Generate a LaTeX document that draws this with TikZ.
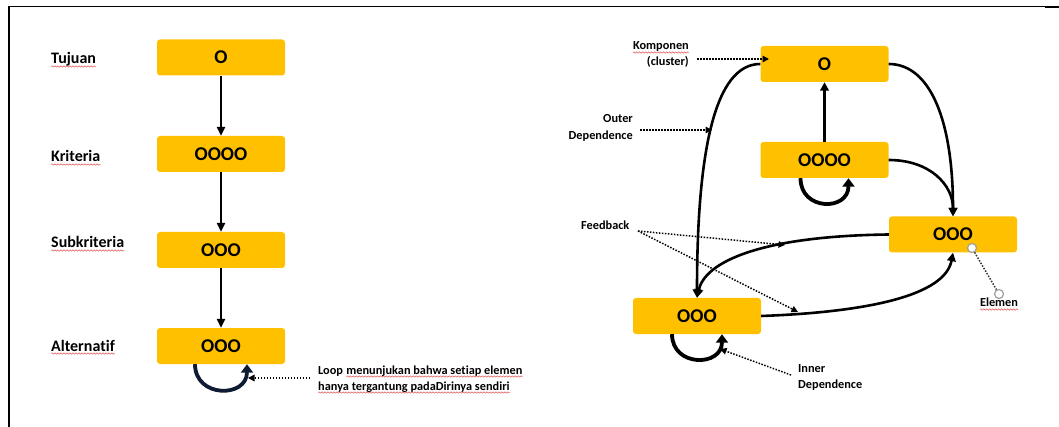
\documentclass[tikz,border=0pt]{standalone}
\usepackage{fontspec}
\setmainfont{Carlito}[Ligatures=NoCommon]
\usetikzlibrary{arrows.meta,decorations.pathmorphing,calc}
\definecolor{boxgold}{HTML}{FFC000}
\definecolor{loopnavy}{HTML}{0E1B33}
\definecolor{squig}{HTML}{E05555}
\tikzset{
  box/.style={fill=boxgold, rounded corners=3pt, minimum width=128pt, minimum height=36pt,
    inner sep=0pt, font=\fontsize{19.5}{19.5}\selectfont\bfseries},
  lbl/.style={inner sep=0pt, font=\fontsize{16}{16}\selectfont\bfseries, text=black},
  note/.style={inner sep=0pt, font=\fontsize{12.3}{12.3}\selectfont\bfseries, text=black},
  flow/.style={line width=2.3pt, -{Triangle[width=8pt,length=9pt]}},
  link/.style={line width=2.6pt, -{Triangle[width=8.5pt,length=8.5pt]}},
  selfloop/.style={line width=3.8pt, -{Triangle[width=12pt,length=8.5pt]}},
  pointer/.style={line width=1.5pt, dash pattern=on 1.5pt off 1.5pt, -{Triangle[width=6.5pt,length=6.5pt]}},
  elemdot/.style={circle, draw=gray!75, fill=white, line width=1.2pt, minimum size=9pt, inner sep=0pt},
  spell/.style={draw=squig, line width=0.5pt, decorate, decoration={snake, amplitude=0.7pt, segment length=3pt}},
}
% red wavy spelling mark under a text node
\newcommand\spellmark[1]{\draw[spell] ([yshift=-2.5pt]#1.base west) -- ([yshift=-2.5pt]#1.base east);}
\begin{document}
\begin{tikzpicture}[x=1pt,y=-1pt]
\useasboundingbox (0,0) rectangle (1059,427);

% frame
\draw[line width=1pt] (8,7) -- (1059,7);
\draw[line width=2pt] (1045,7.5) -- (1059,7.5);
\draw[line width=2pt] (9,7) -- (9,427);

% ---------- hierarchy ----------
\node[box] (goal) at (221,57.5) {O};
\node[box] (crit) at (221,154) {OOOO};
\node[box] (sub)  at (221,250) {OOO};
\node[box] (alt)  at (221,346) {OOO};

\draw[flow] (goal.south) -- (crit.north);
\draw[flow] (crit.south) -- (sub.north);
\draw[flow] (sub.south) -- (alt.north);

\node[lbl, anchor=base west] (lgoal) at (51,64)  {Tujuan};
\node[lbl, anchor=base west] (lcrit) at (51,162) {Kriteria};
\node[lbl, anchor=base west] (lsub)  at (51,248) {Subkriteria};
\node[lbl, anchor=base west] (lalt)  at (51,351) {Alternatif};

\draw[selfloop, draw=loopnavy] ([xshift=-26pt]alt.south)
  .. controls ([xshift=-26pt,yshift=-34pt]alt.south) and ([xshift=26pt,yshift=-34pt]alt.south)
  .. ([xshift=26pt]alt.south);

\node[note, anchor=base west] (loopA) at (318,374) {Loop};
\node[note, anchor=base west] (loopB) at ([xshift=3pt]loopA.base east) {menunjukan bahwa setiap elemen};
\node[note, anchor=base west] (loopC) at (318,390) {hanya tergantung padaDirinya sendiri};
\coordinate (loopTail) at (310,378);
\coordinate (loopTip) at (248,378);
\draw[pointer] (loopTail) -- (loopTip);

% ---------- network ----------
\node[box] (comp) at (824.5,64)  {O};
\node[box] (c4)   at (824.5,160) {OOOO};
\node[box] (c3r)  at (953,234.5) {OOO};
\node[box] (c3l)  at (697,316)   {OOO};

\draw[link] (c4.north) -- (comp.south);
\draw[link] (comp.east) .. controls (930,64) and (953,120) .. (c3r.north);
\draw[link] (c4.east) .. controls (930,160) and (953,185) .. (c3r.north);
\draw[link] (comp.west) .. controls (715,64) and (697,150) .. (c3l.north);
\draw[link] (c3r.west) .. controls (760,236) and (705,262) .. (c3l.north);
\draw[link] (c3l.east) .. controls (870,312) and (945,295) .. (c3r.south);

\draw[selfloop] ([xshift=-24pt]c4.south)
  .. controls ([xshift=-24pt,yshift=-33pt]c4.south) and ([xshift=24pt,yshift=-33pt]c4.south)
  .. ([xshift=24pt]c4.south);
\draw[selfloop] ([xshift=-25pt]c3l.south)
  .. controls ([xshift=-25pt,yshift=-33pt]c3l.south) and ([xshift=25pt,yshift=-33pt]c3l.south)
  .. ([xshift=25pt]c3l.south);

% annotations
\node[note, anchor=base east] (kompA) at (689,50) {Komponen};
\node[note, anchor=base east] (kompB) at (689,66) {(cluster)};
\coordinate (kompTail) at (697,59);
\coordinate (kompTip) at (769,59);
\draw[pointer] (kompTail) -- (kompTip);

\node[note, anchor=base east] (outA) at (633,123) {Outer};
\node[note, anchor=base east] (outB) at (633,140) {Dependence};
\coordinate (outTail) at (640,130);
\coordinate (outTip) at (712,130);
\draw[pointer] (outTail) -- (outTip);

\node[note, anchor=base west] (fb) at (581,230) {Feedback};
\coordinate (fbTail) at (638,231);
\coordinate (fbTipA) at (785,245);
\coordinate (fbTipB) at (798,312);
\draw[pointer] (fbTail) -- (fbTipA);
\draw[pointer] (fbTail) -- (fbTipB);

\node[elemdot] (e1) at (972,248) {};
\node[elemdot] (e2) at (999,294) {};
\draw[line width=1.5pt, dash pattern=on 1.5pt off 1.5pt, draw=black!80] (e1) -- (e2);
\node[note, anchor=base] (elem) at (999,307) {Elemen};

\node[note, anchor=base west] (inA) at (798,372) {Inner};
\node[note, anchor=base west] (inB) at (798,388) {Dependence};
\coordinate (inTail) at (791,375);
\coordinate (inTip) at (720,349);
\draw[pointer] (inTail) -- (inTip);

% spelling marks
\spellmark{lgoal}
\spellmark{lcrit}
\spellmark{lsub}
\spellmark{lalt}
\spellmark{kompA}
\spellmark{loopB}
\spellmark{loopC}
\spellmark{elem}
\end{tikzpicture}
\end{document}
